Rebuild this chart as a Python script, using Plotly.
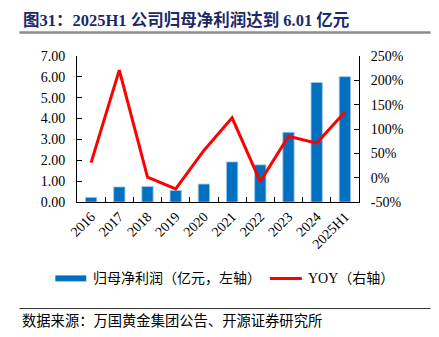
import plotly.graph_objects as go

categories = ["2016", "2017", "2018", "2019", "2020", "2021", "2022", "2023", "2024", "2025H1"]
net_profit = [0.22, 0.72, 0.74, 0.55, 0.86, 1.92, 1.78, 3.34, 5.73, 6.01]
yoy_pct = [31, 221, 1, -23, 56, 123, -8, 85, 71, 135]
left_ticks = [0, 1, 2, 3, 4, 5, 6, 7]
left_tick_text = ["0.00", "1.00", "2.00", "3.00", "4.00", "5.00", "6.00", "7.00"]
right_ticks = [-50, 0, 50, 100, 150, 200, 250]
right_tick_text = ["-50%", "0%", "50%", "100%", "150%", "200%", "250%"]

SERIF = "Liberation Serif, Noto Sans CJK SC, serif"
CJK = "Liberation Serif, Noto Sans CJK SC, sans-serif"
BLUE = "#0070C0"
RED = "#FF0000"

fig = go.Figure()
fig.add_trace(go.Bar(
    x=categories, y=net_profit, name="归母净利润（亿元，左轴）",
    marker=dict(color=BLUE, line=dict(color="#9DC3E6", width=0.8)),
    yaxis="y", showlegend=False,
))
fig.add_trace(go.Scatter(
    x=categories, y=yoy_pct, name="YOY（右轴）", mode="lines",
    line=dict(color=RED, width=3), yaxis="y2", showlegend=False,
))

axis_common = dict(showgrid=False, zeroline=False, showline=True, linecolor="#000000",
                   linewidth=1, ticks="inside", ticklen=5, tickcolor="#000000",
                   tickfont=dict(family=SERIF, size=14, color="#000000"))

fig.update_layout(
    width=439, height=337,
    margin=dict(l=77, r=80, t=56, b=135),
    paper_bgcolor="white", plot_bgcolor="white",
    bargap=0.6,
    xaxis=dict(type="category", range=[-0.5, 9.5], tickangle=-45, tickson="boundaries",
               **axis_common),
    yaxis=dict(range=[0, 7], tickvals=left_ticks, ticktext=left_tick_text,
               ticklabelstandoff=8, **axis_common),
    yaxis2=dict(range=[-50, 250], tickvals=right_ticks, ticktext=right_tick_text,
                overlaying="y", side="right", ticklabelstandoff=8, **axis_common),
)

px = lambda v: (v - 76.7) / 282.6
py = lambda v: (202.3 - v) / 146.6

# Title and rule
fig.add_annotation(text="<b>图31：2025H1 公司归母净利润达到 6.01 亿元</b>", xref="paper", yref="paper",
                   x=px(21), y=py(19.5), xanchor="left", yanchor="middle", showarrow=False,
                   font=dict(family=CJK, size=16.5, color="#1B2A6B"))
fig.add_shape(type="line", xref="paper", yref="paper", x0=px(19), x1=px(431),
              y0=py(32), y1=py(32), line=dict(color="#8C8C8C", width=2.5))

# Legend (drawn manually)
ly = py(279)
fig.add_shape(type="rect", xref="paper", yref="paper", x0=px(55), x1=px(86),
              y0=py(282), y1=py(276), fillcolor=BLUE, line=dict(width=0))
fig.add_annotation(text="归母净利润（亿元，左轴）", xref="paper", yref="paper", x=px(91), y=ly,
                   xanchor="left", yanchor="middle", showarrow=False,
                   font=dict(family=CJK, size=14, color="#000000"))
fig.add_shape(type="line", xref="paper", yref="paper", x0=px(270), x1=px(302),
              y0=ly, y1=ly, line=dict(color=RED, width=3))
fig.add_annotation(text="YOY（右轴）", xref="paper", yref="paper", x=px(306), y=ly,
                   xanchor="left", yanchor="middle", showarrow=False,
                   font=dict(family=CJK, size=14, color="#000000"))

# Bottom rule and source
fig.add_shape(type="line", xref="paper", yref="paper", x0=px(19), x1=px(431),
              y0=py(309.3), y1=py(309.3), line=dict(color="#333333", width=1))
fig.add_annotation(text="数据来源：万国黄金集团公告、开源证券研究所", xref="paper", yref="paper",
                   x=px(20), y=py(322), xanchor="left", yanchor="middle",
                   showarrow=False, font=dict(family=CJK, size=14.3, color="#000000"))

fig.write_html("out.html")
